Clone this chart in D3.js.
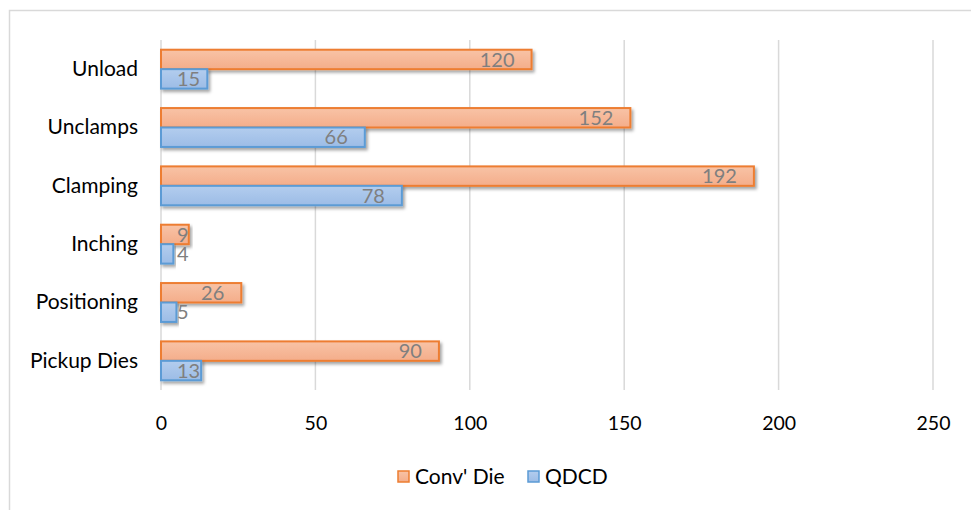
<!DOCTYPE html>
<html><head><meta charset="utf-8">
<script src="https://cdn.jsdelivr.net/npm/d3@7/dist/d3.min.js"></script>
<style>body{margin:0;background:#fff;}svg{display:block;font-family:Lato,"Open Sans",sans-serif;}</style>
</head><body>
<div id="chart"></div>
<script>
const categories = ["Unload","Unclamps","Clamping","Inching","Positioning","Pickup Dies"];
const convDie = [120,152,192,9,26,90];
const qdcd = [15,66,78,4,5,13];
const seriesNames = ["Conv' Die","QDCD"];
const xTicks = [0,50,100,150,200,250];

const W = 971, H = 510;
const svg = d3.select("#chart").append("svg").attr("width",W).attr("height",H);
const defs = svg.append("defs");
function grad(id, c1, c2){
  const g = defs.append("linearGradient").attr("id",id).attr("x1",0).attr("y1",0).attr("x2",0).attr("y2",1);
  g.append("stop").attr("offset","0%").attr("stop-color",c1);
  g.append("stop").attr("offset","100%").attr("stop-color",c2);
}
grad("gOrange","#f8c3a6","#f4ad8a");
grad("gBlue","#b3cdee","#9cbce6");
const f = defs.append("filter").attr("id","shadow").attr("x","-5%").attr("y","-30%").attr("width","120%").attr("height","180%");
f.append("feDropShadow").attr("dx",2).attr("dy",2.5).attr("stdDeviation",1.6).attr("flood-color","#000").attr("flood-opacity",0.35);

// chart border
svg.append("rect").attr("x",9.5).attr("y",10.5).attr("width",1000).attr("height",600)
  .attr("fill","none").attr("stroke","#d9d9d9").attr("stroke-width",1.5);

const x = d3.scaleLinear().domain([0,250]).range([161,933]);
const y = d3.scaleBand().domain(categories).range([40,390]).paddingInner(1/3).paddingOuter(1/6);
const sub = d3.scaleBand().domain(seriesNames).range([0,y.bandwidth()]);

// gridlines
svg.append("g").selectAll("line").data(xTicks).join("line")
  .attr("x1",d=>x(d)).attr("x2",d=>x(d)).attr("y1",40).attr("y2",390)
  .attr("stroke","#d9d9d9").attr("stroke-width",1.5);

// x tick labels
const xAxis = d3.axisBottom(x).tickValues(xTicks).tickSize(0).tickPadding(0);
const gx = svg.append("g").attr("transform","translate(0,430)").call(xAxis);
gx.select(".domain").remove();
gx.selectAll("text").attr("font-size",19.5).attr("fill","#000").attr("font-family","Lato,sans-serif").attr("dy","0");

// y labels
const yAxis = d3.axisLeft(y).tickSize(0).tickPadding(0);
const gy = svg.append("g").attr("transform","translate(138,0)").call(yAxis);
gy.select(".domain").remove();
gy.selectAll("text").attr("font-size",21).attr("fill","#000").attr("font-family","Lato,sans-serif").attr("dy","0.32em");

const data = [];
categories.forEach((c,i)=>{
  data.push({cat:c, s:seriesNames[0], v:convDie[i]});
  data.push({cat:c, s:seriesNames[1], v:qdcd[i]});
});
const fills = {"Conv' Die":"url(#gOrange)","QDCD":"url(#gBlue)"};
const strokes = {"Conv' Die":"#ed7d31","QDCD":"#5b9bd5"};

const bars = svg.append("g");
bars.selectAll("rect").data(data).join("rect")
  .attr("x",x(0)).attr("y",d=>y(d.cat)+sub(d.s))
  .attr("width",d=>x(d.v)-x(0)).attr("height",sub.bandwidth())
  .attr("fill",d=>fills[d.s]).attr("stroke",d=>strokes[d.s]).attr("stroke-width",2)
  .attr("filter","url(#shadow)");

// labels
const lbl = svg.append("g").selectAll("text").data(data).join("text")
  .attr("font-size",20).attr("fill","#7f7f7f").attr("font-family","Lato,sans-serif")
  .attr("y",d=>y(d.cat)+sub(d.s)+sub.bandwidth()/2).attr("dy","0.36em")
  .text(d=>d.v);
lbl.each(function(d){
  const w = this.getComputedTextLength();
  const left = Math.max(x(d.v)-17-w, 177);
  d3.select(this).attr("x",left);
});

// legend
const leg = svg.append("g");
const legItems = [{n:seriesNames[0],x:398},{n:seriesNames[1],x:528}];
legItems.forEach(it=>{
  leg.append("rect").attr("x",it.x).attr("y",471).attr("width",11).attr("height",11)
    .attr("fill",fills[it.n]).attr("stroke",strokes[it.n]).attr("stroke-width",1.5);
  leg.append("text").attr("x",it.x+17).attr("y",477).attr("dy","0.35em")
    .attr("font-size",21).attr("fill","#000").text(it.n);
});
</script>
</body></html>
